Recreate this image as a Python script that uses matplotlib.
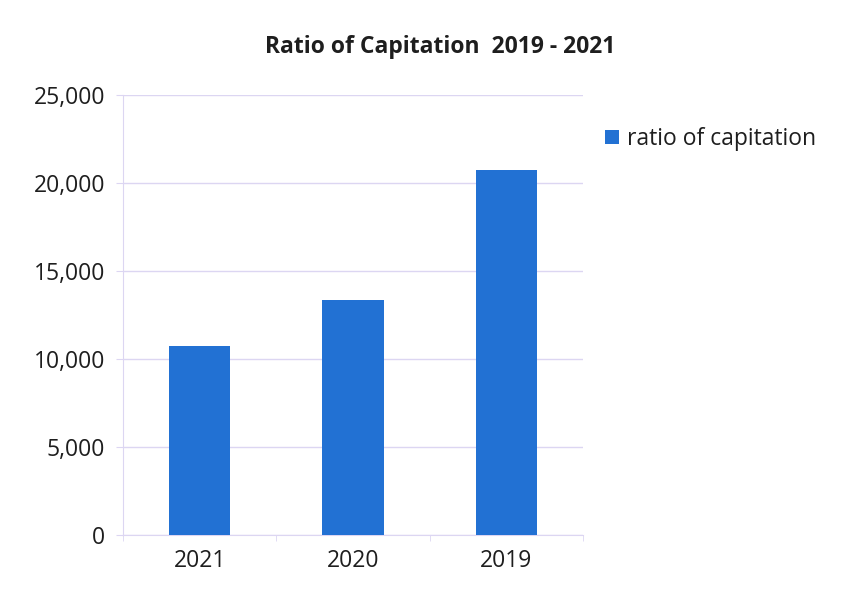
import numpy as np
import matplotlib.pyplot as plt
from matplotlib.ticker import FuncFormatter, FixedLocator

plt.rcParams['font.family'] = ['Open Sans', 'DejaVu Sans']

# data
years = ['2021', '2020', '2019']
ratio = [10750, 13380, 20750]
series_name = 'ratio of capitation'

bar_color = '#2271d3'
grid_color = '#dcd6f2'
text_color = '#1e1e1e'

fig = plt.figure(figsize=(8.56, 5.92), dpi=100)
ax = fig.add_axes([0.1437, 0.0963, 0.5374, 0.7432])

x = np.arange(len(years))
ax.bar(x, ratio, width=0.4, color=bar_color, label=series_name, zorder=3)

ax.set_xlim(-0.5, len(years) - 0.5)
ax.set_ylim(0, 25000)
ax.set_yticks(np.arange(0, 25001, 5000))
ax.yaxis.set_major_formatter(FuncFormatter(lambda v, p: f'{int(v):,}'))
ax.set_xticks(x)
ax.set_xticklabels(years)
ax.xaxis.set_minor_locator(FixedLocator(np.arange(-0.5, len(years), 1.0)))

ax.grid(axis='y', color=grid_color, linewidth=1.0, zorder=0)
for s in ['top', 'right']:
    ax.spines[s].set_visible(False)
ax.spines['left'].set_color(grid_color)
ax.spines['bottom'].set_color(grid_color)
ax.tick_params(axis='y', length=5, color=grid_color, labelsize=16.5, labelcolor=text_color, pad=8)
ax.tick_params(axis='x', which='major', length=0, labelsize=16.5, labelcolor=text_color, pad=10)
ax.tick_params(axis='x', which='minor', length=4, color=grid_color)

fig.text(440 / 856, 1 - 47 / 592, 'Ratio of Capitation  2019 - 2021', ha='center', va='center',
         fontsize=16.5, fontweight='bold', color=text_color)

leg = fig.legend(loc='upper left', bbox_to_anchor=(0.683, 0.82), frameon=False, fontsize=16.5,
                 handlelength=0.6, handleheight=0.6, handletextpad=0.35, labelcolor=text_color)

fig.savefig('out.png', dpi=100)
